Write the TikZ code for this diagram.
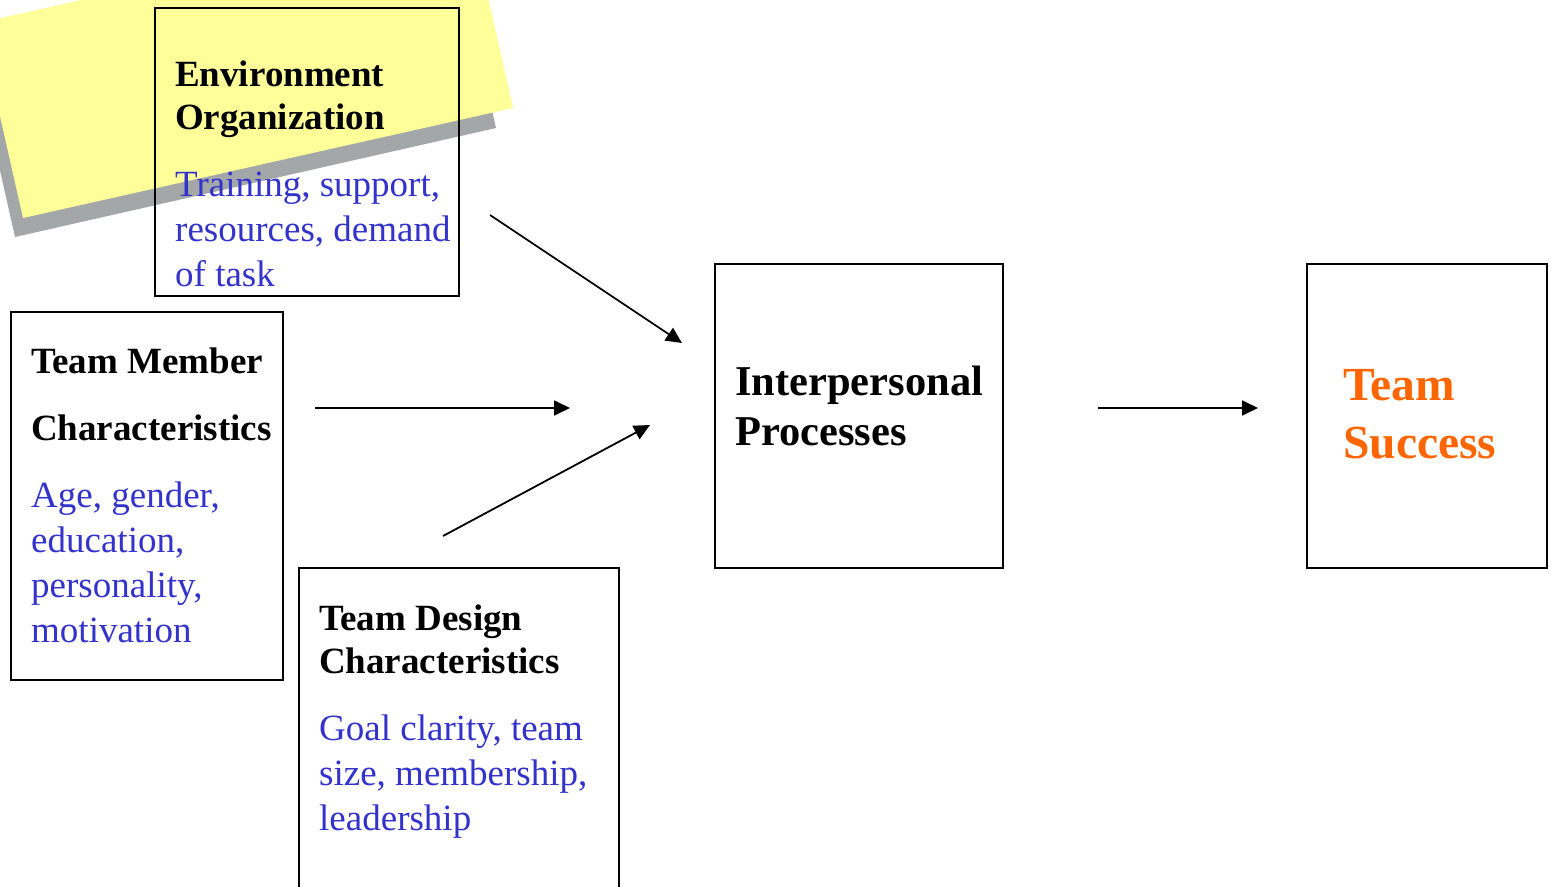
\documentclass[tikz,border=0pt]{standalone}
\usepackage{fontspec}
\setmainfont{Liberation Serif}
\usetikzlibrary{arrows.meta}
\definecolor{noteyellow}{HTML}{FFFF99}
\definecolor{noteshadow}{HTML}{A3A7A8}
\definecolor{descblue}{HTML}{3333CC}
\definecolor{successorange}{HTML}{FF6600}
\tikzset{
  box/.style={draw,line width=2pt,inner sep=0pt,outer sep=0pt,anchor=north west},
  head/.style={anchor=north west,inner sep=0pt,align=left,font=\fontsize{37}{43}\selectfont\bfseries},
  desc/.style={anchor=north west,inner sep=0pt,align=left,text=descblue,font=\fontsize{37}{45}\selectfont},
  flow/.style={line width=1.8pt,-{Triangle[length=16pt,width=15pt]}}
}
\begin{document}
\begin{tikzpicture}[x=1pt,y=-1pt]
  \useasboundingbox (0,0) rectangle (1552,886);
  \clip (0,0) rectangle (1552,886);
  % sticky note behind the environment box
  \fill[noteshadow] (15,237) -- (496,128) -- (452,-67) -- (-29,42) -- cycle;
  \fill[noteyellow] (23,218) -- (513,108) -- (469,-87) -- (-21,23) -- cycle;
  % boxes
  \node[box,minimum width=304pt,minimum height=288pt] (env) at (155,8) {};
  \node[box,minimum width=272pt,minimum height=368pt] (member) at (11,312) {};
  \node[box,minimum width=320pt,minimum height=330pt] (design) at (299,568) {};
  \node[box,minimum width=288pt,minimum height=304pt] (inter) at (715,264) {};
  \node[box,minimum width=240pt,minimum height=304pt] (success) at (1307,264) {};
  % texts
  \node[head] (envhead) at (175,61) {Environment\\Organization};
  \node[desc] (envdesc) at (175,172) {Training, support,\\resources, demand\\of task};
  \node[head,font=\fontsize{37}{67}\selectfont\bfseries] (memberhead) at (31,348) {Team Member\\Characteristics};
  \node[desc] (memberdesc) at (31,482) {Age, gender,\\education,\\personality,\\motivation};
  \node[head] (designhead) at (319,605) {Team Design\\Characteristics};
  \node[desc] (designdesc) at (319,715) {Goal clarity, team\\size, membership,\\leadership};
  \node[head,font=\fontsize{42.5}{50}\selectfont\bfseries] (interhead) at (735,366) {Interpersonal\\Processes};
  \node[head,text=successorange,font=\fontsize{47.5}{58}\selectfont\bfseries] (successhead) at (1343,369) {Team\\Success};
  % arrows
  \coordinate (envout) at (490,215);
  \coordinate (envin) at (682,343);
  \coordinate (memberout) at (315,408);
  \coordinate (memberin) at (570,408);
  \coordinate (designout) at (443,536);
  \coordinate (designin) at (650,425);
  \coordinate (interout) at (1098,408);
  \coordinate (successin) at (1258,408);
  \draw[flow] (envout) -- (envin);
  \draw[flow] (memberout) -- (memberin);
  \draw[flow] (designout) -- (designin);
  \draw[flow] (interout) -- (successin);
\end{tikzpicture}
\end{document}
